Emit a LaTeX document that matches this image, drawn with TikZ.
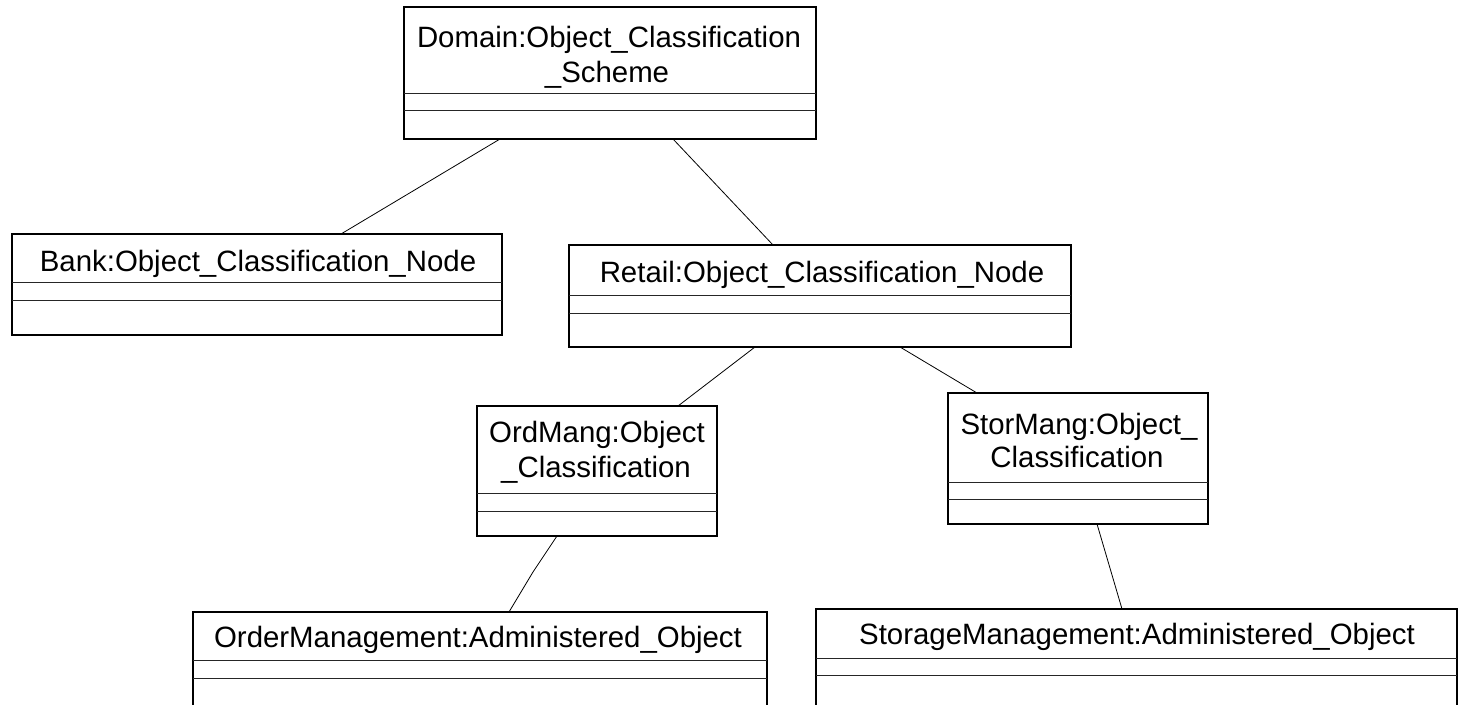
\documentclass[tikz,border=0pt]{standalone}
\usepackage{fontspec}
\setmainfont{Liberation Sans}
\tikzset{
  classframe/.style={draw=black, line width=1.3pt, fill=white, rectangle, inner sep=0pt, outer sep=0pt},
  compline/.style={draw=black!85, line width=0.9pt},
  link/.style={draw=black, line width=0.8pt},
  classname/.style={anchor=base, inner sep=0pt, font=\fontsize{29.4pt}{35pt}\selectfont},
}
% class box: name, centre x, top y, width, height, first and second compartment offsets
\newcommand\classbox[7]{%
  \node[classframe, minimum width=#4pt, minimum height=#5pt, anchor=north] (#1) at (#2,#3) {};
  \draw[compline] ([yshift=-#6pt]#1.north west) -- ([yshift=-#6pt]#1.north east);
  \draw[compline] ([yshift=-#7pt]#1.north west) -- ([yshift=-#7pt]#1.north east);
}
\begin{document}
\begin{tikzpicture}[x=1pt, y=-1pt]
  \useasboundingbox (0,0) rectangle (1461,704);
  \clip (0,0) rectangle (1461,704);
  \fill[white] (0,0) rectangle (1461,704);

  % class boxes
  \classbox{dom}{610}{7}{412}{132}{86}{103}
  \classbox{bank}{257}{234}{490}{101}{48}{66}
  \classbox{retail}{820}{245}{502}{102}{50}{68}
  \classbox{ordm}{597}{406}{240}{130}{87}{105}
  \classbox{storm}{1078}{393}{260}{131}{89}{106}
  \classbox{orderadm}{480}{612}{574}{120}{48}{66}
  \classbox{storageadm}{1136.5}{609}{641}{120}{49}{66}

  % class names
  \node[classname] (dom-t1) at (609,47) {Domain:Object\_Classification};
  \node[classname] (dom-t2) at (607,82) {\_Scheme};
  \node[classname] (bank-t) at (258,271) {Bank:Object\_Classification\_Node};
  \node[classname] (retail-t) at (822,282) {Retail:Object\_Classification\_Node};
  \node[classname] (ordm-t1) at (597,442) {OrdMang:Object};
  \node[classname] (ordm-t2) at (596,477) {\_Classification};
  \node[classname] (storm-t1) at (1079,434) {StorMang:Object\_};
  \node[classname] (storm-t2) at (1077,467) {Classification};
  \node[classname] (orderadm-t) at (478,647) {OrderManagement:Administered\_Object};
  \node[classname] (storageadm-t) at (1137,644) {StorageManagement:Administered\_Object};

  % associations
  \draw[link] ([xshift=-110pt]dom.south) -- ([xshift=84pt]bank.north);
  \draw[link] ([xshift=63pt]dom.south) -- ([xshift=-47pt]retail.north);
  \draw[link] ([xshift=-65pt]retail.south) -- ([xshift=81pt]ordm.north);
  \draw[link] ([xshift=80pt]retail.south) -- ([xshift=-101pt]storm.north);
  \coordinate (ordbend) at (533,572);
  \draw[link] ([xshift=-40pt]ordm.south) -- (ordbend) -- ([xshift=29pt]orderadm.north);
  \draw[link] ([xshift=19pt]storm.south) -- ([xshift=-14.5pt]storageadm.north);
\end{tikzpicture}
\end{document}
